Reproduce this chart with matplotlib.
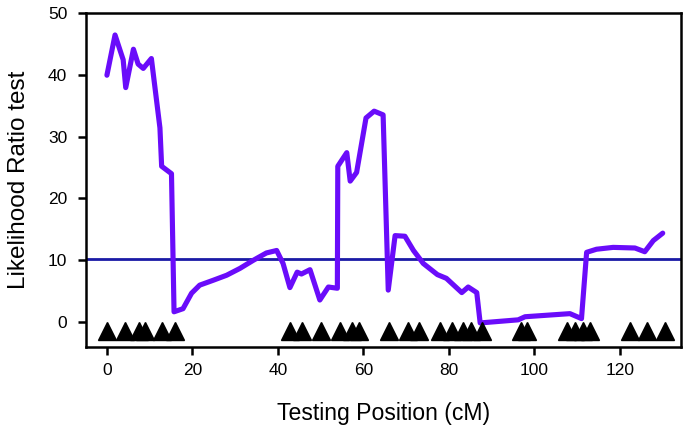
import matplotlib
matplotlib.use("Agg")
import matplotlib.pyplot as plt

plt.rcParams['font.family'] = ['Liberation Sans', 'DejaVu Sans']

# LRT profile along the chromosome
pos = [0, 1.9, 3.8, 4.4, 6.2, 7.3, 8.5, 10.4, 12.4, 12.8, 15.1, 15.7, 17.8,
       19.8, 21.7, 24.9, 28.0, 31.1, 34.2, 37.3, 39.7, 41.2, 42.8, 44.5,
       45.5, 47.5, 49.8, 51.8, 53.9, 54.0, 56.1, 56.9, 58.4, 60.6, 62.5,
       64.6, 65.8, 67.4, 69.7, 71.7, 74.0, 77.3, 79.4, 83.0, 84.5, 86.5,
       87.3, 96.2, 97.8, 108.3, 111.0, 112.2, 114.5, 118.4, 123.5, 125.8,
       127.8, 130.0]
lrt = [39.9, 46.4, 42.4, 37.9, 44.1, 41.7, 41.0, 42.6, 31.4, 25.2, 24.0,
       1.7, 2.2, 4.7, 6.0, 6.8, 7.6, 8.7, 10.0, 11.2, 11.6, 9.5, 5.6, 8.1,
       7.8, 8.5, 3.6, 5.7, 5.5, 25.2, 27.4, 22.8, 24.2, 33.0, 34.1, 33.5,
       5.2, 14.0, 13.9, 11.6, 9.5, 7.7, 7.1, 4.8, 5.7, 4.8, -0.1, 0.4, 0.9,
       1.4, 0.6, 11.3, 11.8, 12.1, 12.0, 11.4, 13.2, 14.4]

threshold = 10.3

# marker positions (cM)
markers = [0, 4.3, 7.4, 9.0, 13.0, 16.0, 42.9, 45.7, 50.1, 54.5, 57.3, 58.9,
           66.0, 70.4, 73.1, 77.8, 80.6, 83.4, 85.2, 87.7, 96.8, 98.2, 107.6,
           109.4, 111.3, 113.1, 122.4, 126.4, 130.5]

fig = plt.figure(figsize=(6.85, 4.30), dpi=100)
ax = fig.add_axes([0.1255, 0.1937, 0.8682, 0.7768])

ax.axhline(threshold, color='#1a1aa6', lw=2.0, zorder=2)
ax.plot(pos, lrt, color='#6a0cfa', lw=3.7, solid_joinstyle='round',
        solid_capstyle='round', zorder=3)
ax.plot(markers, [-1.45] * len(markers), linestyle='none', marker='^',
        color='black', markersize=13, zorder=4)

ax.set_xlim(-4.9, 134.2)
ax.set_ylim(-3.94, 50)
ax.set_xticks(range(0, 121, 20))
ax.set_yticks(range(0, 51, 10))

for s in ax.spines.values():
    s.set_linewidth(1.8)
ax.tick_params(direction='out', length=5.5, width=1.8, labelsize=12.5)
ax.tick_params(axis='x', pad=6.5)
ax.tick_params(axis='y', pad=8)

ax.set_xlabel('Testing Position (cM)', fontsize=16.6, labelpad=17)
ax.set_ylabel('Likelihood Ratio test', fontsize=17.5, labelpad=13)

fig.savefig('out.png', dpi=100)
